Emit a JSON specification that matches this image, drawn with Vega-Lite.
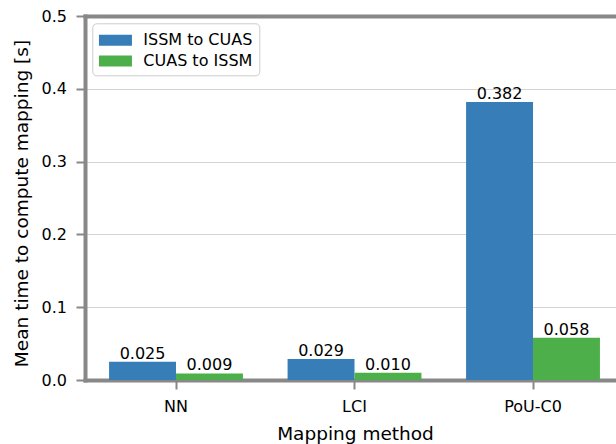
{
  "$schema": "https://vega.github.io/schema/vega-lite/v6.json",
  "width": 531,
  "height": 364,
  "autosize": {"type": "none"},
  "padding": {"left": 85, "top": 16, "right": 0, "bottom": 64},
  "background": "white",
  "config": {
    "font": "DejaVu Sans",
    "view": {"stroke": null},
    "axis": {
      "domainColor": "#888888",
      "domainWidth": 4,
      "domainCap": "square",
      "tickColor": "#888888",
      "tickWidth": 2,
      "tickSize": 9,
      "labelColor": "black",
      "titleColor": "black",
      "labelFont": "DejaVu Sans",
      "titleFont": "DejaVu Sans",
      "labelFontSize": 16,
      "titleFontSize": 18.5,
      "titleFontWeight": "normal"
    },
    "legend": {
      "labelFont": "DejaVu Sans",
      "labelFontSize": 16,
      "labelColor": "black"
    }
  },
  "data": {
    "values": [
      {"method": "NN", "series": "ISSM to CUAS", "value": 0.025},
      {"method": "NN", "series": "CUAS to ISSM", "value": 0.009},
      {"method": "LCI", "series": "ISSM to CUAS", "value": 0.029},
      {"method": "LCI", "series": "CUAS to ISSM", "value": 0.010},
      {"method": "PoU-C0", "series": "ISSM to CUAS", "value": 0.382},
      {"method": "PoU-C0", "series": "CUAS to ISSM", "value": 0.058}
    ]
  },
  "encoding": {
    "x": {
      "field": "method",
      "type": "nominal",
      "sort": ["NN", "LCI", "PoU-C0"],
      "scale": {"paddingInner": 0.25, "paddingOuter": 0.1124, "align": 0.6},
      "axis": {
        "orient": "bottom",
        "labelAngle": 0,
        "grid": false,
        "title": "Mapping method",
        "titleX": 270,
        "titleY": 59.3,
        "titleAlign": "center",
        "titleBaseline": "alphabetic",
        "labelBaseline": "alphabetic",
        "labelPadding": 22
      }
    },
    "xOffset": {
      "field": "series",
      "type": "nominal",
      "sort": ["ISSM to CUAS", "CUAS to ISSM"],
      "scale": {"paddingInner": 0, "paddingOuter": 0}
    },
    "y": {
      "field": "value",
      "type": "quantitative",
      "scale": {"domain": [0, 0.5], "nice": false, "zero": true},
      "axis": {
        "values": [0, 0.1, 0.2, 0.3, 0.4, 0.5],
        "format": ".1f",
        "grid": true,
        "gridColor": "#d4d4d4",
        "gridWidth": 1,
        "labelPadding": 9.5,
        "title": "Mean time to compute mapping [s]",
        "titleAngle": 270,
        "titleX": -57.7,
        "titleY": 187,
        "titleAlign": "center",
        "titleBaseline": "alphabetic"
      }
    }
  },
  "layer": [
    {
      "mark": {"type": "bar"},
      "encoding": {
        "color": {
          "field": "series",
          "type": "nominal",
          "sort": ["ISSM to CUAS", "CUAS to ISSM"],
          "scale": {"domain": ["ISSM to CUAS", "CUAS to ISSM"], "range": ["#377eb8", "#4daf4a"]},
          "legend": {
            "title": null,
            "orient": "none",
            "legendX": 7.3,
            "legendY": 7.3,
            "symbolType": "M-0.94,-0.5H2.06V0.5H-0.94Z",
            "symbolSize": 484,
            "symbolStrokeWidth": 0,
            "symbolOpacity": 1,
            "labelOffset": 23,
            "padding": 6,
            "rowPadding": 1.8,
            "strokeColor": "#cccccc",
            "fillColor": "rgba(255,255,255,0.8)",
            "cornerRadius": 4
          }
        }
      }
    },
    {
      "mark": {"type": "text", "dy": -3, "baseline": "alphabetic", "align": "center", "fontSize": 16, "color": "black", "font": "DejaVu Sans"},
      "encoding": {
        "x": {
          "field": "method",
          "type": "nominal",
          "sort": ["NN", "LCI", "PoU-C0"],
          "axis": {"orient": "top", "title": null, "labels": false, "ticks": false, "grid": false, "domain": true}
        },
        "text": {"field": "value", "type": "quantitative", "format": ".3f"}
      }
    }
  ],
  "resolve": {"axis": {"x": "independent"}}
}
